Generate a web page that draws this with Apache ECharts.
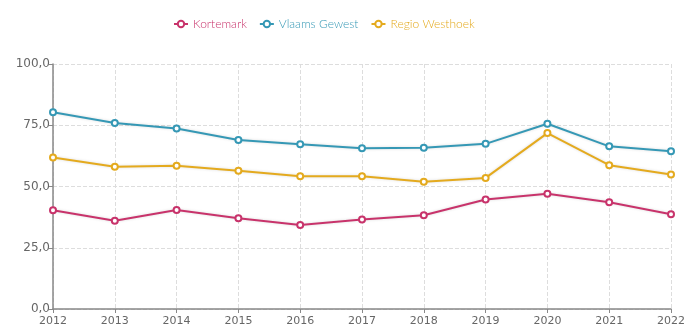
<!DOCTYPE html>
<html>
<head>
<meta charset="utf-8">
<script src="https://cdn.jsdelivr.net/npm/echarts@6/dist/echarts.min.js"></script>
<style>
  html, body { margin: 0; padding: 0; background: #fff; }
  #main { width: 688px; height: 327px; }
</style>
</head>
<body>
<div id="main"></div>
<script>
// jaartallen
var years = ['2012','2013','2014','2015','2016','2017','2018','2019','2020','2021','2022'];
var seriesNames = ['Kortemark', 'Vlaams Gewest', 'Regio Westhoek'];
var kortemark = [40.3, 36.0, 40.4, 37.0, 34.3, 36.5, 38.3, 44.7, 47.0, 43.6, 38.7];
var vlaamsGewest = [80.3, 75.9, 73.7, 69.0, 67.2, 65.6, 65.8, 67.4, 75.6, 66.4, 64.4];
var regioWesthoek = [61.8, 58.1, 58.5, 56.4, 54.2, 54.2, 51.9, 53.5, 71.8, 58.7, 54.9];
var colors = ['#c8336b', '#3598b5', '#e4aa1e'];

var myChart = echarts.init(document.getElementById('main'));

function mkSeries(name, data, color) {
    return {
        name: name,
        type: 'line',
        data: data,
        symbol: 'emptyCircle',
        symbolSize: 6,
        lineStyle: { width: 2, color: color, shadowBlur: 3, shadowColor: 'rgba(0,0,0,0.15)' },
        itemStyle: { color: color, borderWidth: 2 }
    };
}

var legendData = [];
for (var i = 0; i < seriesNames.length; i++) {
    legendData.push({ name: seriesNames[i], textStyle: { color: colors[i] } });
}

var option = {
    backgroundColor: '#fff',
    animation: false,
    color: colors,
    legend: {
        top: 13,
        left: 168,
        itemWidth: 14,
        itemHeight: 8,
        itemGap: 12,
        textStyle: { fontSize: 12, fontFamily: 'Lato', fontWeight: 300 },
        data: legendData
    },
    grid: { left: 53, right: 16, top: 64, bottom: 18 },
    xAxis: {
        type: 'category',
        data: years,
        boundaryGap: false,
        axisLine: { lineStyle: { color: '#888', width: 1.5 } },
        axisTick: { lineStyle: { color: '#888' }, length: 4 },
        axisLabel: { color: '#666', fontSize: 11, fontFamily: 'DejaVu Sans', margin: 7 },
        splitLine: { show: true, lineStyle: { color: '#ddd', type: 'dashed' } }
    },
    yAxis: {
        type: 'value',
        min: 0,
        max: 100,
        interval: 25,
        axisLine: { show: true, lineStyle: { color: '#888', width: 1.5 } },
        axisTick: { show: true, lineStyle: { color: '#888' }, length: 4 },
        axisLabel: {
            color: '#666', fontSize: 12, fontFamily: 'DejaVu Sans', margin: 3,
            formatter: function (v) { return v.toFixed(1).replace('.', ','); }
        },
        splitLine: { show: true, lineStyle: { color: '#ddd', type: 'dashed' } }
    },
    series: [
        mkSeries(seriesNames[0], kortemark, colors[0]),
        mkSeries(seriesNames[1], vlaamsGewest, colors[1]),
        mkSeries(seriesNames[2], regioWesthoek, colors[2])
    ]
};
myChart.setOption(option);
</script>
</body>
</html>
